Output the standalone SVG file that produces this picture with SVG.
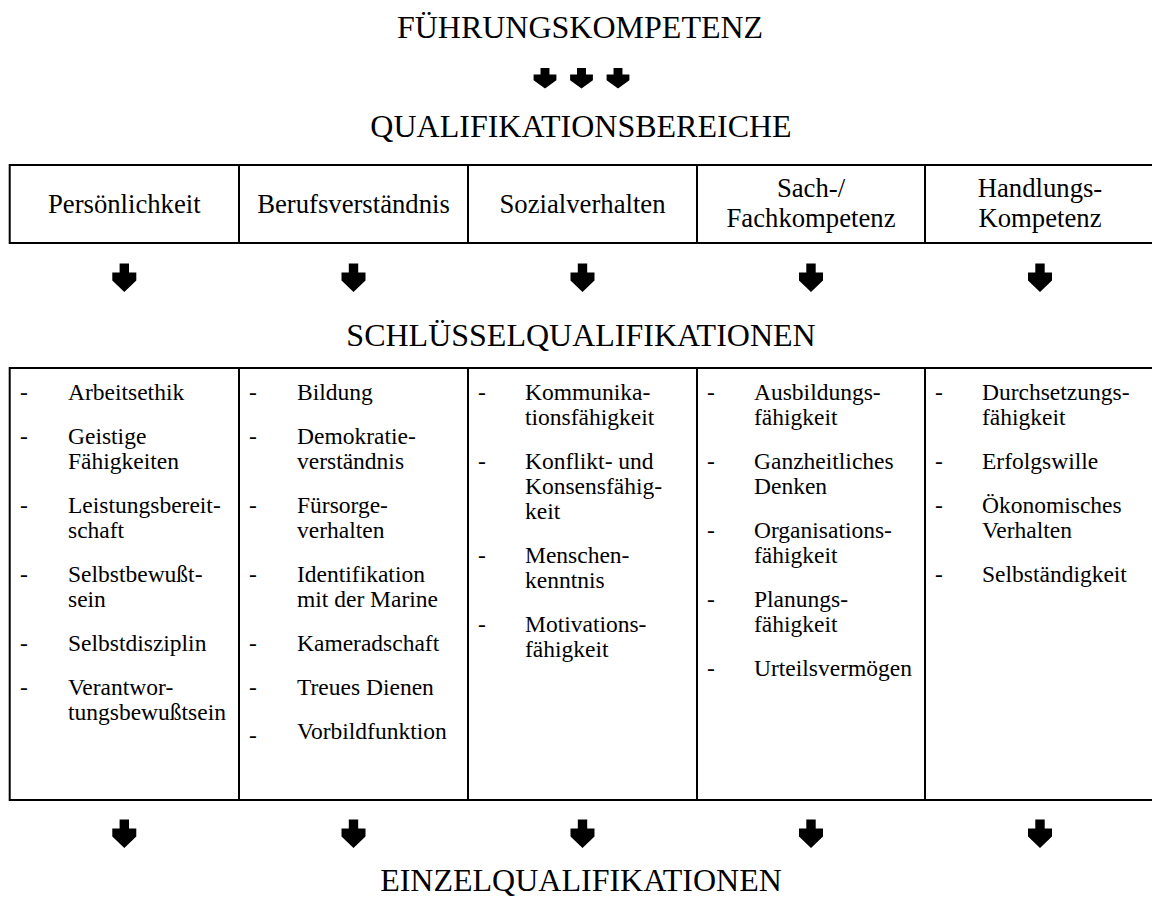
<svg xmlns="http://www.w3.org/2000/svg" xmlns:xlink="http://www.w3.org/1999/xlink" width="1152" height="903" viewBox="0 0 1152 903">
<style>
text{font-family:"Liberation Serif","Times New Roman",serif;fill:#000}
.title{font-size:32px;text-anchor:middle}
.hd{font-size:26.7px;text-anchor:middle}
.li{font-size:23.5px}
.box{fill:none;stroke:#000;stroke-width:2}
.arr{fill:#000}
</style>
<defs>
<path id="ar" d="M-4.7,0 H4.7 V9 H12 V17 L0,28.5 L-12,17 V9 H-4.7 Z"/>
</defs>
<rect width="1152" height="903" fill="#fff"/>

<g id="title-fuehrung"><text class="title" x="580" y="38">FÜHRUNGSKOMPETENZ</text></g>
<g id="title-qualbereiche"><text class="title" x="581" y="137">QUALIFIKATIONSBEREICHE</text></g>
<g id="title-schluessel"><text class="title" x="581" y="346">SCHLÜSSELQUALIFIKATIONEN</text></g>
<g id="title-einzel"><text class="title" x="581" y="891">EINZELQUALIFIKATIONEN</text></g>

<g id="table-bereiche">
<rect class="box" x="9.7" y="165" width="1144" height="78"/>
<line class="box" x1="239" y1="165" x2="239" y2="243"/>
<line class="box" x1="468" y1="165" x2="468" y2="243"/>
<line class="box" x1="697" y1="165" x2="697" y2="243"/>
<line class="box" x1="925" y1="165" x2="925" y2="243"/>
</g>
<g id="b-persoenlichkeit"><text class="hd" x="124.3" y="213">Persönlichkeit</text></g>
<g id="b-berufsverstaendnis"><text class="hd" x="353.5" y="213">Berufsverständnis</text></g>
<g id="b-sozialverhalten"><text class="hd" x="582.5" y="213">Sozialverhalten</text></g>
<g id="b-sachkompetenz"><text class="hd" x="811" y="197">Sach-/</text><text class="hd" x="811" y="227">Fachkompetenz</text></g>
<g id="b-handlungskompetenz"><text class="hd" x="1040" y="197">Handlungs-</text><text class="hd" x="1040" y="227">Kompetenz</text></g>

<g id="table-schluessel">
<rect class="box" x="9.7" y="368" width="1144" height="432"/>
<line class="box" x1="239" y1="368" x2="239" y2="800"/>
<line class="box" x1="468" y1="368" x2="468" y2="800"/>
<line class="box" x1="697" y1="368" x2="697" y2="800"/>
<line class="box" x1="925" y1="368" x2="925" y2="800"/>
</g>

<g id="s-col1" class="li">
<text x="20" y="400">-</text><text x="68" y="400">Arbeitsethik</text>
<text x="20" y="444">-</text><text x="68" y="444">Geistige</text><text x="68" y="469">Fähigkeiten</text>
<text x="20" y="513">-</text><text x="68" y="513">Leistungsbereit-</text><text x="68" y="538">schaft</text>
<text x="20" y="582">-</text><text x="68" y="582">Selbstbewußt-</text><text x="68" y="607">sein</text>
<text x="20" y="651">-</text><text x="68" y="651">Selbstdisziplin</text>
<text x="20" y="695">-</text><text x="68" y="695">Verantwor-</text><text x="68" y="720">tungsbewußtsein</text>
</g>
<g id="s-col2" class="li">
<text x="249" y="400">-</text><text x="297" y="400">Bildung</text>
<text x="249" y="444">-</text><text x="297" y="444">Demokratie-</text><text x="297" y="469">verständnis</text>
<text x="249" y="513">-</text><text x="297" y="513">Fürsorge-</text><text x="297" y="538">verhalten</text>
<text x="249" y="582">-</text><text x="297" y="582">Identifikation</text><text x="297" y="607">mit der Marine</text>
<text x="249" y="651">-</text><text x="297" y="651">Kameradschaft</text>
<text x="249" y="695">-</text><text x="297" y="695">Treues Dienen</text>
<text x="249" y="743">-</text><text x="297" y="739">Vorbildfunktion</text>
</g>
<g id="s-col3" class="li">
<text x="478" y="400">-</text><text x="525" y="400">Kommunika-</text><text x="525" y="425">tionsfähigkeit</text>
<text x="478" y="469">-</text><text x="525" y="469">Konflikt- und</text><text x="525" y="494">Konsensfähig-</text><text x="525" y="519">keit</text>
<text x="478" y="563">-</text><text x="525" y="563">Menschen-</text><text x="525" y="588">kenntnis</text>
<text x="478" y="632">-</text><text x="525" y="632">Motivations-</text><text x="525" y="657">fähigkeit</text>
</g>
<g id="s-col4" class="li">
<text x="707" y="400">-</text><text x="754" y="400">Ausbildungs-</text><text x="754" y="425">fähigkeit</text>
<text x="707" y="469">-</text><text x="754" y="469">Ganzheitliches</text><text x="754" y="494">Denken</text>
<text x="707" y="538">-</text><text x="754" y="538">Organisations-</text><text x="754" y="563">fähigkeit</text>
<text x="707" y="607">-</text><text x="754" y="607">Planungs-</text><text x="754" y="632">fähigkeit</text>
<text x="707" y="676">-</text><text x="754" y="676">Urteilsvermögen</text>
</g>
<g id="s-col5" class="li">
<text x="935" y="400">-</text><text x="982" y="400">Durchsetzungs-</text><text x="982" y="425">fähigkeit</text>
<text x="935" y="469">-</text><text x="982" y="469">Erfolgswille</text>
<text x="935" y="513">-</text><text x="982" y="513">Ökonomisches</text><text x="982" y="538">Verhalten</text>
<text x="935" y="582">-</text><text x="982" y="582">Selbständigkeit</text>
</g>

<g id="connectors" class="arr">
<use xlink:href="#ar" transform="translate(545,68) scale(0.95,0.72)"/>
<use xlink:href="#ar" transform="translate(581.5,68) scale(0.95,0.72)"/>
<use xlink:href="#ar" transform="translate(618,68) scale(0.95,0.72)"/>
<use xlink:href="#ar" x="124.3" y="263.5"/>
<use xlink:href="#ar" x="353.5" y="263.5"/>
<use xlink:href="#ar" x="582.5" y="263.5"/>
<use xlink:href="#ar" x="811" y="263.5"/>
<use xlink:href="#ar" x="1040" y="263.5"/>
<use xlink:href="#ar" x="124.3" y="819.5"/>
<use xlink:href="#ar" x="353.5" y="819.5"/>
<use xlink:href="#ar" x="582.5" y="819.5"/>
<use xlink:href="#ar" x="811" y="819.5"/>
<use xlink:href="#ar" x="1040" y="819.5"/>
</g>
</svg>
